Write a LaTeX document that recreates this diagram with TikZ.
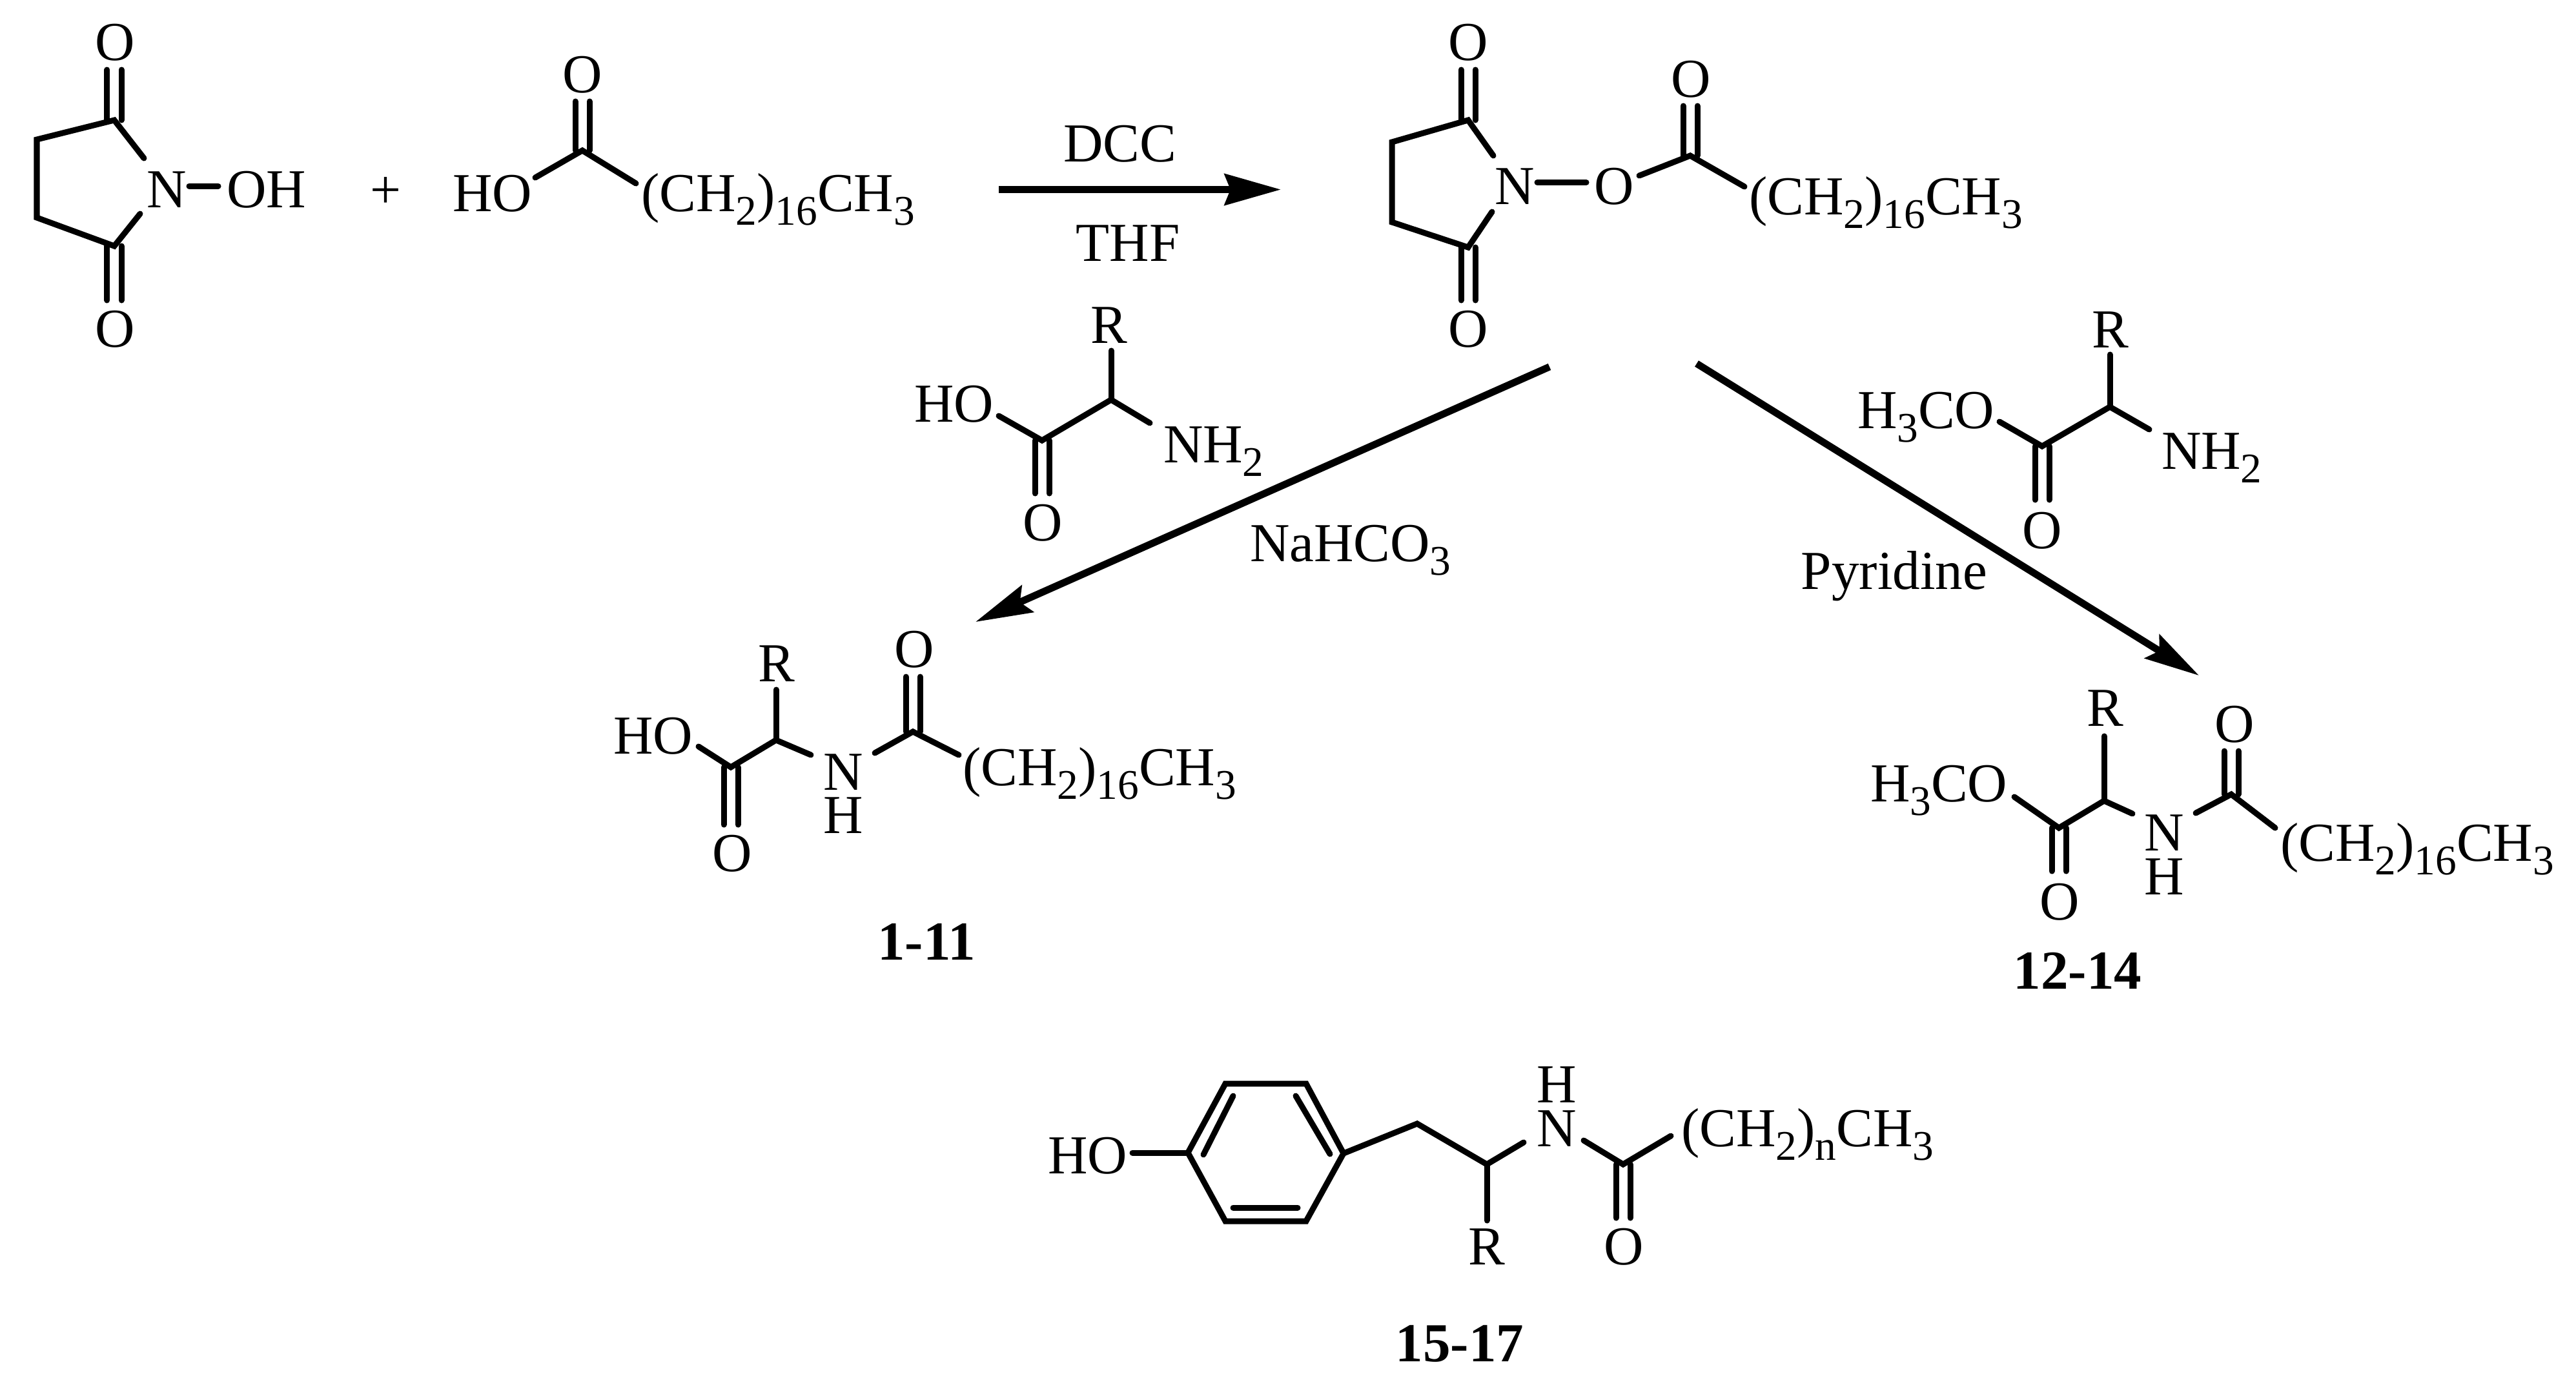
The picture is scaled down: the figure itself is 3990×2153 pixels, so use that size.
\documentclass[tikz,border=0pt]{standalone}
\usepackage{fontspec}
\setmainfont{Liberation Serif}
\usetikzlibrary{arrows.meta}
\newcommand{\sbs}[1]{\raisebox{-.25em}{\fontsize{18.6}{18.6}\selectfont #1}}
\newcommand{\chain}{(CH\sbs{2})\sbs{16}CH\sbs{3}}
\newcommand{\dblbond}[2]{%
  \draw[bond] ([xshift=-.11cm]#1)--([xshift=-.11cm]#2);
  \draw[bond] ([xshift=.11cm]#1)--([xshift=.11cm]#2);}
\tikzset{
  atom/.style={inner sep=0pt,outer sep=0pt,anchor=base,font=\fontsize{24.2}{24.2}\selectfont},
  atomw/.style={atom,anchor=base west},
  cmpd/.style={atom,font=\fontsize{24.2}{24.2}\selectfont\bfseries},
  bond/.style={line width=.09cm,line cap=round,line join=miter,black},
  rxn/.style={line width=.11cm,black}
}
\begin{document}
\begin{tikzpicture}[x=.01cm,y=-.01cm]
\useasboundingbox (0,0) rectangle (3990,2153);
\fill[white] (0,0) rectangle (3990,2153);

% ---------- N-hydroxysuccinimide
\coordinate (a1) at (177,186);
\coordinate (a2) at (57,216);
\coordinate (a3) at (57,337);
\coordinate (a4) at (177,381);
\coordinate (a1o) at (177,108);
\coordinate (a4o) at (177,465);
\coordinate (a1n) at (223,245);
\coordinate (a4n) at (217,331);
\coordinate (a5) at (293,288);
\coordinate (a6) at (338,288);
\node[atom] (ao1) at (178,93) {O};
\node[atom] (ao2) at (178,537) {O};
\node[atomw] (an) at (227,321) {N};
\node[atomw] (aoh) at (351,321) {OH};
\dblbond{a1}{a1o}
\dblbond{a4}{a4o}
\draw[bond] (a1n)--(a1)--(a2)--(a3)--(a4)--(a4n);
\draw[bond] (a5)--(a6);
\node[atom] (plus) at (597,322) {+};

% ---------- stearic acid
\coordinate (b1) at (902,233);
\coordinate (b1o) at (902,157);
\coordinate (b2) at (829,275);
\coordinate (b3) at (985,284);
\node[atom] (bo) at (902,143) {O};
\node[atomw] (bho) at (701,327) {HO};
\node[atomw] (bch) at (993,327) {\chain};
\dblbond{b1}{b1o}
\draw[bond] (b2)--(b1)--(b3);

% ---------- arrow 1
\coordinate (r1s) at (1547,293.5);
\coordinate (r1e) at (1984,293.5);
\draw[rxn,-{Stealth[length=.87cm,width=.48cm,inset=.09cm]}] (r1s)--(r1e);
\node[atom] (dcc) at (1735,250) {DCC};
\node[atom] (thf) at (1747,404) {THF};

% ---------- activated ester
\coordinate (c1) at (2274,186);
\coordinate (c2) at (2156,220);
\coordinate (c3) at (2156,344);
\coordinate (c4) at (2274,383);
\coordinate (c1o) at (2274,108);
\coordinate (c4o) at (2274,465);
\coordinate (c1n) at (2313,241);
\coordinate (c4n) at (2311,328);
\coordinate (c5) at (2381,282.5);
\coordinate (c6) at (2457,282.5);
\coordinate (c7) at (2539,272);
\coordinate (c8) at (2618,241);
\coordinate (c8o) at (2618,164);
\coordinate (c9) at (2702,289);
\node[atom] (co1) at (2274,93) {O};
\node[atom] (co2) at (2274,537) {O};
\node[atom] (cn) at (2346,316) {N};
\node[atom] (co3) at (2500,316) {O};
\node[atom] (co4) at (2619,150) {O};
\node[atomw] (cch) at (2709,332) {\chain};
\dblbond{c1}{c1o}
\dblbond{c4}{c4o}
\dblbond{c8}{c8o}
\draw[bond] (c1n)--(c1)--(c2)--(c3)--(c4)--(c4n);
\draw[bond] (c5)--(c6);
\draw[bond] (c7)--(c8)--(c9);

% ---------- arrows 2 and 3
\coordinate (r2s) at (2400,568);
\coordinate (r2e) at (1511,963);
\draw[rxn,-{Stealth[length=.88cm,width=.45cm,inset=.13cm]}] (r2s)--(r2e);
\coordinate (r3s) at (2628,563);
\coordinate (r3e) at (3406,1046);
\draw[rxn,-{Stealth[length=.85cm,width=.43cm,inset=.13cm]}] (r3s)--(r3e);
\node[atomw] (nahco) at (1936,869) {NaHCO\sbs{3}};
\node[atom] (pyr) at (2934,912) {Pyridine};

% ---------- amino acid reagent
\coordinate (d1) at (1721,619);
\coordinate (d1r) at (1721,543);
\coordinate (d2) at (1614,682);
\coordinate (d2o) at (1614,764);
\coordinate (d3) at (1547,644);
\coordinate (d4) at (1781,655);
\node[atom] (dr) at (1718,531) {R};
\node[atomw] (dho) at (1416,653) {HO};
\node[atom] (do) at (1615,837) {O};
\node[atomw] (dn) at (1802,716) {NH\sbs{2}};
\dblbond{d2}{d2o}
\draw[bond] (d1r)--(d1);
\draw[bond] (d3)--(d2)--(d1)--(d4);

% ---------- product 1-11
\coordinate (e1) at (1202,1146);
\coordinate (e1r) at (1202,1068);
\coordinate (e2) at (1132,1188);
\coordinate (e2o) at (1132,1277);
\coordinate (e3) at (1082,1156);
\coordinate (e4) at (1256,1169);
\coordinate (e5) at (1355,1166);
\coordinate (e6) at (1414,1133);
\coordinate (e6o) at (1414,1048);
\coordinate (e7) at (1485,1169);
\node[atom] (er) at (1203,1055) {R};
\node[atomw] (eho) at (950,1167) {HO};
\node[atom] (eo1) at (1134,1349) {O};
\node[atom] (en) at (1306,1223) {N};
\node[atom] (eh) at (1306,1290) {H};
\node[atom] (eo2) at (1416,1033) {O};
\node[atomw] (ech) at (1491,1216) {\chain};
\node[cmpd] (e111) at (1435,1486) {1-11};
\dblbond{e2}{e2o}
\dblbond{e6}{e6o}
\draw[bond] (e1r)--(e1);
\draw[bond] (e3)--(e2)--(e1)--(e4);
\draw[bond] (e5)--(e6)--(e7);

% ---------- amino ester reagent
\coordinate (f1) at (3268,630);
\coordinate (f1r) at (3268,549);
\coordinate (f2) at (3163,691);
\coordinate (f2o) at (3163,774);
\coordinate (f3) at (3097,653);
\coordinate (f4) at (3329,665);
\node[atom] (fr) at (3269,538) {R};
\node[atomw] (fme) at (2877,663) {H\sbs{3}CO};
\node[atom] (fo) at (3163,849) {O};
\node[atomw] (fn) at (3348,726) {NH\sbs{2}};
\dblbond{f2}{f2o}
\draw[bond] (f1r)--(f1);
\draw[bond] (f3)--(f2)--(f1)--(f4);

% ---------- product 12-14
\coordinate (g1) at (3259,1240);
\coordinate (g1r) at (3259,1140);
\coordinate (g2) at (3189,1282);
\coordinate (g2o) at (3189,1349);
\coordinate (g3) at (3120,1234);
\coordinate (g4) at (3303,1260);
\coordinate (g5) at (3401,1259);
\coordinate (g6) at (3456,1230);
\coordinate (g6o) at (3456,1163);
\coordinate (g7) at (3524,1282);
\node[atom] (gr) at (3261,1124) {R};
\node[atomw] (gme) at (2897,1241) {H\sbs{3}CO};
\node[atom] (go1) at (3190,1424) {O};
\node[atom] (gn) at (3352,1317) {N};
\node[atom] (gh) at (3352,1385) {H};
\node[atom] (go2) at (3461,1149) {O};
\node[atomw] (gch) at (3532,1333) {\chain};
\node[cmpd] (g1214) at (3218,1531) {12-14};
\dblbond{g2}{g2o}
\dblbond{g6}{g6o}
\draw[bond] (g1r)--(g1);
\draw[bond] (g3)--(g2)--(g1)--(g4);
\draw[bond] (g5)--(g6)--(g7);

% ---------- tyrosine-type structure 15-17
\coordinate (h0) at (1754,1785);
\coordinate (h1) at (1840,1785);
\coordinate (h2) at (1898,1678);
\coordinate (h3) at (2023,1678);
\coordinate (h4) at (2081,1786);
\coordinate (h5) at (2023,1891);
\coordinate (h6) at (1898,1891);
\coordinate (i1a) at (1910,1697);
\coordinate (i1b) at (1864,1788);
\coordinate (i2a) at (2007,1697);
\coordinate (i2b) at (2060,1787);
\coordinate (i3a) at (1910,1870);
\coordinate (i3b) at (2010,1870);
\coordinate (h7) at (2195,1740);
\coordinate (h8) at (2303,1803);
\coordinate (h8r) at (2303,1890);
\coordinate (h9) at (2360,1769);
\coordinate (h10) at (2453,1766);
\coordinate (h11) at (2514,1803);
\coordinate (h11o) at (2514,1886);
\coordinate (h12) at (2588,1759);
\node[atomw] (hho) at (1623,1817) {HO};
\node[atom] (hr) at (2303,1958) {R};
\node[atom] (hn) at (2411,1775) {N};
\node[atom] (hh) at (2411,1707) {H};
\node[atom] (ho) at (2515,1958) {O};
\node[atomw] (hch) at (2604,1775) {(CH\sbs{2})\sbs{n}CH\sbs{3}};
\node[cmpd] (h1517) at (2261,2108) {15-17};
\dblbond{h11}{h11o}
\draw[bond] (h0)--(h1);
\draw[bond] (h1)--(h2)--(h3)--(h4)--(h5)--(h6)--cycle;
\draw[bond] (i1a)--(i1b);
\draw[bond] (i2a)--(i2b);
\draw[bond] (i3a)--(i3b);
\draw[bond] (h4)--(h7)--(h8)--(h9);
\draw[bond] (h8)--(h8r);
\draw[bond] (h10)--(h11)--(h12);
\end{tikzpicture}
\end{document}
